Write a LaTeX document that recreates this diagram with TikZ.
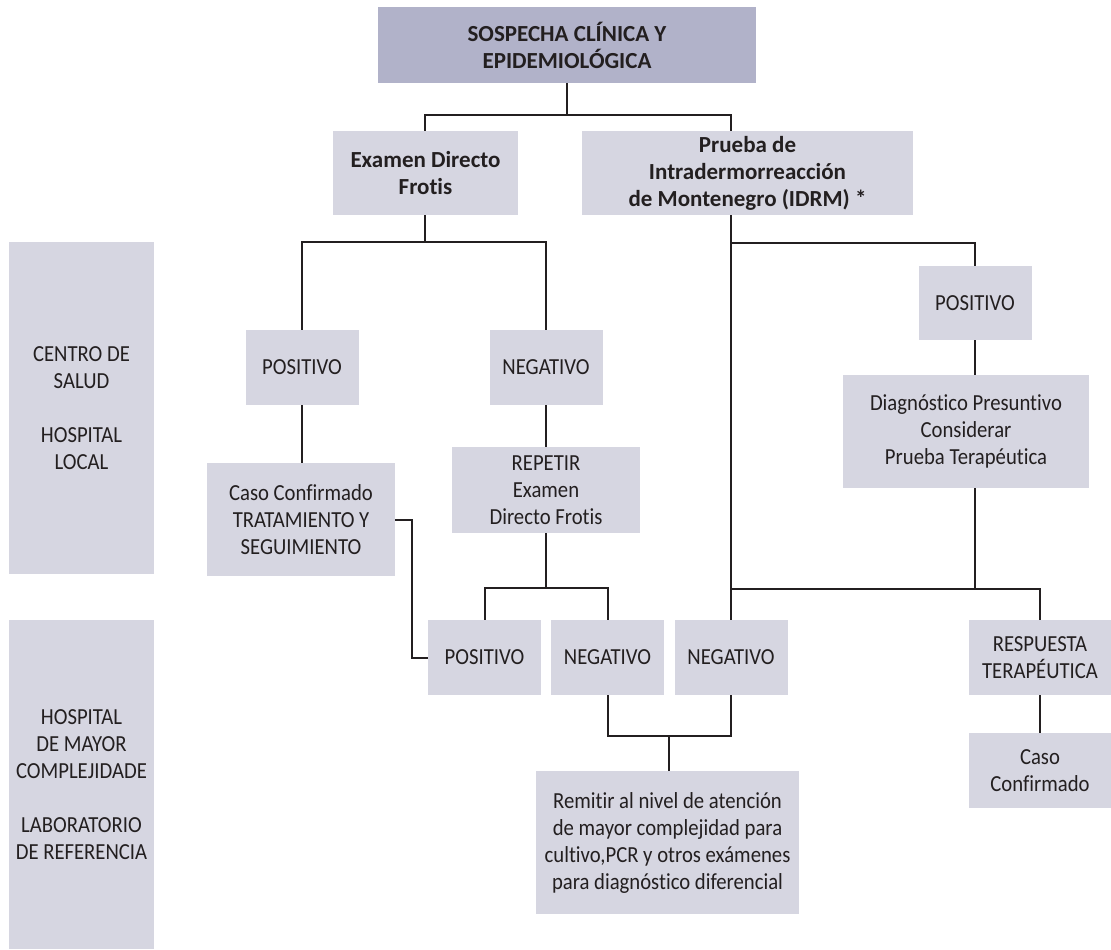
\documentclass[tikz,border=0pt]{standalone}
\usepackage{fontspec}
\setmainfont{Carlito}[Ligatures={NoCommon}, FakeStretch=0.9,
  BoldFeatures={FakeStretch=1.0}]
\usetikzlibrary{calc}
\definecolor{boxdark}{RGB}{177,178,201}
\definecolor{boxlight}{RGB}{214,214,225}
\definecolor{ink}{RGB}{35,31,32}
\tikzset{
  box/.style={fill=boxlight, inner sep=0pt, align=center, text=ink,
    font=\fontsize{23}{27}\selectfont},
  headbox/.style={box, fill=boxdark, font=\fontsize{23}{27}\selectfont\bfseries},
  boldbox/.style={box, font=\fontsize{23}{27}\selectfont\bfseries},
  link/.style={draw=ink, line width=2pt},
}
\begin{document}
\begin{tikzpicture}[x=1pt, y=-1pt]
\useasboundingbox (0,0) rectangle (1111,950);

% level labels
\node[box, minimum width=145pt, minimum height=332pt] (lvlA) at (81.5,408)
  {CENTRO DE\\SALUD\\[27pt]HOSPITAL\\LOCAL};
\node[box, minimum width=145pt, minimum height=329pt] (lvlB) at (81.5,784.5)
  {HOSPITAL\\DE MAYOR\\COMPLEJIDADE\\[27pt]LABORATORIO\\DE REFERENCIA};

% main flow
\node[headbox, minimum width=378pt, minimum height=76pt] (top) at (567,45)
  {SOSPECHA CLÍNICA Y\\EPIDEMIOLÓGICA};
\node[boldbox, minimum width=185pt, minimum height=84pt] (exam) at (425.5,173)
  {Examen Directo\\Frotis};
\node[boldbox, minimum width=331pt, minimum height=84pt] (idrm) at (747.5,173)
  {Prueba de\\Intradermorreacción\\de Montenegro (IDRM) *};

\node[box, minimum width=113pt, minimum height=75pt] (pos1) at (302,367.5) {POSITIVO};
\node[box, minimum width=113pt, minimum height=75pt] (neg1) at (546,367.5) {NEGATIVO};
\node[box, minimum width=188pt, minimum height=113pt] (caso1) at (301,519.5)
  {Caso Confirmado\\TRATAMIENTO Y\\SEGUIMIENTO};
\node[box, minimum width=188pt, minimum height=86pt] (rep) at (546,490)
  {REPETIR\\Examen\\Directo Frotis};

\node[box, minimum width=113pt, minimum height=75pt] (pos2) at (484.5,657.5) {POSITIVO};
\node[box, minimum width=113pt, minimum height=75pt] (neg2) at (607.5,657.5) {NEGATIVO};
\node[box, minimum width=113pt, minimum height=75pt] (neg3) at (731,657.5) {NEGATIVO};
\node[box, minimum width=263pt, minimum height=143pt] (rem) at (667.5,842.5)
  {Remitir al nivel de atención\\de mayor complejidad para\\cultivo,PCR y otros exámenes\\para diagnóstico diferencial};

\node[box, minimum width=113pt, minimum height=74pt] (posR) at (975,303) {POSITIVO};
\node[box, minimum width=246pt, minimum height=113pt] (diag) at (966,431.5)
  {Diagnóstico Presuntivo\\Considerar\\Prueba Terapéutica};
\node[box, minimum width=142pt, minimum height=75pt] (resp) at (1040,657.5)
  {RESPUESTA\\TERAPÉUTICA};
\node[box, minimum width=142pt, minimum height=75pt] (caso2) at (1040,770.5)
  {Caso\\Confirmado};

% junction points
\coordinate (jTop) at (567,115);
\coordinate (trunkTop) at (731,215);
\coordinate (jExam) at (425,242);
\coordinate (jRep) at (546,588);
\coordinate (jRem) at (669,736);
\coordinate (jPos) at (731,243);
\coordinate (jDiag) at (975,589);

% connectors
\draw[link] (top.south) -- (jTop);
\draw[link] (exam.north -| 425,0) |- (jTop) -| (trunkTop |- idrm.north);
\draw[link] (exam.south -| jExam) -- (jExam);
\draw[link] (pos1.north) |- (jExam) -| (neg1.north);
\draw[link] (pos1.south) -- (caso1.north -| pos1.south);
\draw[link] (neg1.south) -- (rep.north);
\draw[link] (rep.south) -- (jRep);
\draw[link] (pos2.north) |- (jRep) -| (neg2.north);
\draw[link] (caso1.east) -| (412,657.5) -- (pos2.west);
\draw[link] (neg2.south) |- (jRem) -| (neg3.south);
\draw[link] (jRem) -- (rem.north -| jRem);
\draw[link] (trunkTop) -- (neg3.north);
\draw[link] (jPos) -| (posR.north);
\draw[link] (posR.south) -- (posR.south |- diag.north);
\draw[link] (diag.south -| posR.south) -- (jDiag);
\draw[link] (trunkTop |- jDiag) -| (resp.north);
\draw[link] (resp.south) -- (caso2.north);
\end{tikzpicture}
\end{document}
